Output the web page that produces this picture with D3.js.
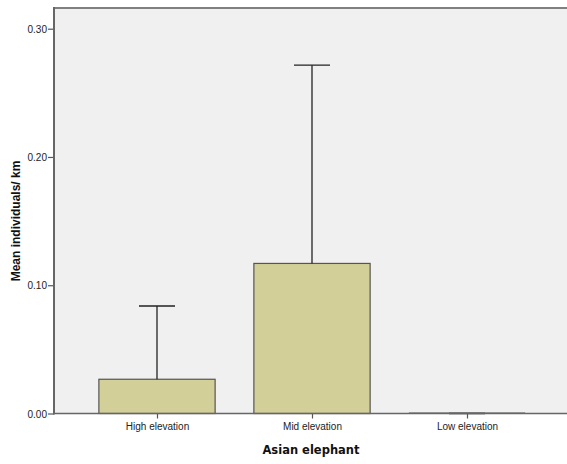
<!DOCTYPE html>
<html><head><meta charset="utf-8">
<script src="https://cdn.jsdelivr.net/npm/d3@7"></script>
<style>body{margin:0;background:#fff;}svg{display:block;}</style>
</head><body>
<script>
const categories = ["High elevation", "Mid elevation", "Low elevation"];
const means = [0.0267, 0.117, 0.0];
const errorUpper = [0.0838, 0.2716, 0.0];
const yTicks = [0.00, 0.10, 0.20, 0.30];
const xTitle = "Asian elephant";
const yTitle = "Mean individuals/ km";

const W = 567, H = 464;
const plot = {left: 54, top: 8, right: 567, bottom: 413.5};

const svg = d3.select("body").append("svg").attr("width", W).attr("height", H);

const y = d3.scaleLinear().domain([0, 0.30]).range([plot.bottom, 28.7]);
const x = d3.scalePoint().domain(categories).range([79.5, 544.5]).padding(0.5);
const barW = x.step() * 0.75;
const capW = 36;

svg.append("rect").attr("x", plot.left).attr("y", plot.top)
  .attr("width", plot.right - plot.left).attr("height", plot.bottom - plot.top)
  .attr("fill", "#f0f0f0");

svg.append("line").attr("x1", plot.left).attr("x2", plot.right).attr("y1", plot.top).attr("y2", plot.top)
  .attr("stroke", "#808080").attr("stroke-width", 2);

svg.selectAll("rect.bar").data(categories).enter().append("rect")
  .attr("class", "bar")
  .attr("x", d => x(d) - barW / 2)
  .attr("y", (d, i) => y(means[i]))
  .attr("width", barW)
  .attr("height", (d, i) => plot.bottom - y(means[i]))
  .attr("fill", "#d3cf98").attr("stroke", "#555").attr("stroke-width", 1.2);

categories.forEach((d, i) => {
  if (means[i] === 0) {
    svg.append("line").attr("x1", x(d) - barW / 2).attr("x2", x(d) + barW / 2)
      .attr("y1", plot.bottom - 0.5).attr("y2", plot.bottom - 0.5)
      .attr("stroke", "#555").attr("stroke-width", 1.2);
  }
});

const eb = svg.append("g").attr("stroke", "#222");
categories.forEach((d, i) => {
  const cx = x(d);
  eb.append("line").attr("x1", cx).attr("x2", cx).attr("y1", y(means[i])).attr("y2", y(errorUpper[i]))
    .attr("stroke-width", 1.3);
  eb.append("line").attr("x1", cx - capW / 2).attr("x2", cx + capW / 2)
    .attr("y1", y(errorUpper[i])).attr("y2", y(errorUpper[i])).attr("stroke-width", 1.3);
});

const yAxis = svg.append("g").attr("transform", `translate(${plot.left},0)`)
  .call(d3.axisLeft(y).tickValues(yTicks).tickFormat(d3.format(".2f")).tickSize(6).tickSizeOuter(0));
yAxis.select(".domain").remove();
yAxis.selectAll(".tick line").attr("stroke", "#555").attr("stroke-width", 1.2);
yAxis.selectAll(".tick text").attr("x", -7).attr("dy", "0.35em")
  .attr("font-family", "Liberation Sans, Arial, sans-serif").attr("font-size", 10).attr("fill", "#222");
svg.append("line").attr("x1", plot.left).attr("x2", plot.left).attr("y1", plot.top - 1).attr("y2", plot.bottom + 1)
  .attr("stroke", "#666").attr("stroke-width", 2);

const xAxis = svg.append("g").attr("transform", `translate(0,${plot.bottom})`)
  .call(d3.axisBottom(x).tickSize(5).tickSizeOuter(0));
xAxis.select(".domain").remove();
xAxis.selectAll(".tick line").attr("stroke", "#555").attr("stroke-width", 1.2);
xAxis.selectAll(".tick text").attr("y", 9).attr("dy", "0.71em")
  .attr("font-family", "Liberation Sans, Arial, sans-serif").attr("font-size", 10).attr("fill", "#222");
svg.append("line").attr("x1", plot.left).attr("x2", plot.right).attr("y1", plot.bottom).attr("y2", plot.bottom)
  .attr("stroke", "#666").attr("stroke-width", 1.5);

svg.append("text").attr("x", 311).attr("y", 454).attr("text-anchor", "middle")
  .attr("font-family", "DejaVu Sans, Verdana, sans-serif").attr("font-weight", "bold").attr("font-size", 11.5)
  .attr("fill", "#111").text(xTitle);
svg.append("text").attr("transform", "translate(20,221) rotate(-90)").attr("text-anchor", "middle")
  .attr("font-family", "Liberation Sans, Arial, sans-serif").attr("font-weight", "bold").attr("font-size", 12)
  .attr("fill", "#111").text(yTitle);
</script>
</body></html>
